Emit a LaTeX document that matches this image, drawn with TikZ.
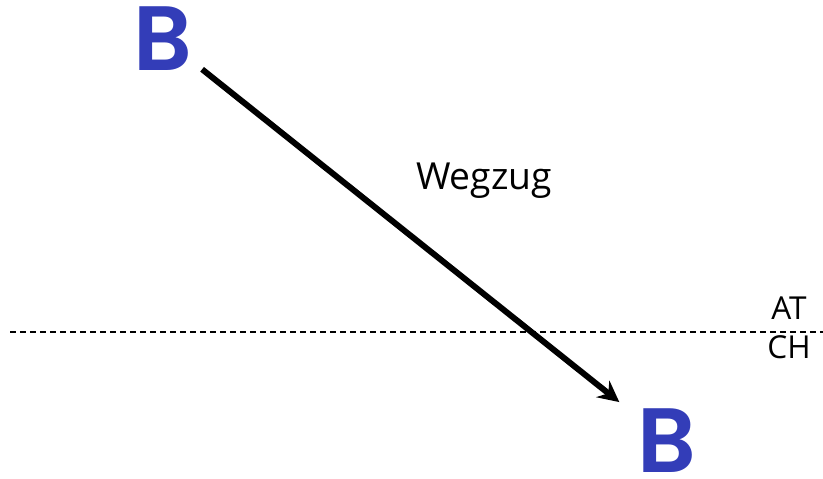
\documentclass[tikz,border=0pt]{standalone}
\usepackage{xcolor}
\usepackage{fontspec}
\setmainfont{Open Sans}
\newfontfamily\letterfont{Poppins}[UprightFont=* SemiBold]
\usetikzlibrary{arrows.meta, calc}
\definecolor{letterblue}{RGB}{51, 61, 184}
\tikzstyle{letter} = [inner sep=0pt, anchor=base, text=letterblue, font=\letterfont\fontsize{26pt}{30pt}\selectfont]
\tikzstyle{country} = [inner sep=0pt, anchor=base, font=\fontsize{9pt}{10pt}\selectfont]
\tikzstyle{arrow} = [-{Stealth[length=6pt, width=6pt, inset=2pt]}, line width=1.7pt]
\tikzstyle{border} = [line width=0.4pt, dash pattern=on 0.06cm off 0.04cm]

\begin{document}
\begin{tikzpicture}
    \useasboundingbox (0,0) rectangle (8.23,4.78);

    % Letters
    \node[letter] (bstart) at (1.63, 4.08) {B};
    \node[letter] (bend) at (6.67, 0.06) {B};

    % Border
    \coordinate (borderleft) at (0.10, 1.46);
    \coordinate (borderright) at (8.23, 1.46);
    \draw[border] (borderleft) -- (borderright);
    \node[country] (at) at (7.89, 1.59) {AT};
    \node[country] (ch) at (7.89, 1.20) {CH};

    % Move
    \draw[arrow] ($(bstart.center)!0.50cm!(bend.center)$) -- ($(bend.center)!0.61cm!(bstart.center)$);
    \node[inner sep=0pt, anchor=base, font=\fontsize{10.6pt}{12pt}\selectfont] (move) at (4.84, 2.89) {Wegzug};
\end{tikzpicture}
\end{document}
